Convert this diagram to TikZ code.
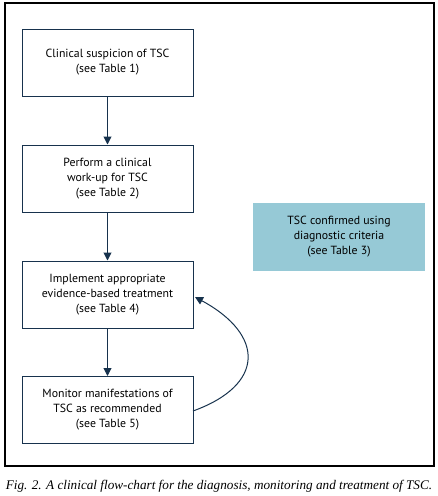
\documentclass[tikz,border=0pt]{standalone}
\usepackage{fontspec}
\setmainfont{PT Sans}
\newfontfamily\capfont{Liberation Serif}
\usetikzlibrary{arrows.meta}
\definecolor{navy}{HTML}{17324D}
\definecolor{teal}{HTML}{96C9D6}
\begin{document}
\begin{tikzpicture}[x=1pt,y=-1pt,
  flowbox/.style={draw=navy, line width=1pt, minimum width=171pt, minimum height=67pt, align=center, font=\fontsize{11.8}{15}\selectfont, inner sep=0pt},
  infobox/.style={fill=teal, minimum width=172pt, minimum height=68pt, align=center, font=\fontsize{11.8}{15}\selectfont, inner sep=0pt},
  conn/.style={draw=navy, line width=1pt, -{Triangle[length=8pt,width=8pt]}}]
\useasboundingbox (0,0) rectangle (438,496);
\draw[line width=1.2pt] (5,3) rectangle (434,466);
\node[flowbox] (b1) at (107.5,62.5) {Clinical suspicion of TSC\\(see Table 1)};
\node[flowbox] (b2) at (107.5,178.5) {Perform a clinical\\work-up for TSC\\(see Table 2)};
\node[flowbox] (b3) at (107.5,294.5) {Implement appropriate\\evidence-based treatment\\(see Table 4)};
\node[flowbox] (b4) at (107.5,410) {Monitor manifestations of\\TSC as recommended\\(see Table 5)};
\node[infobox] (c) at (339,237) {TSC confirmed using\\diagnostic criteria\\(see Table 3)};
\draw[conn] (b1) -- (b2);
\draw[conn] (b2) -- (b3);
\draw[conn] (b3) -- (b4);
\coordinate (s) at (193,411);
\coordinate (e) at (195,297);
\draw[conn] (s) .. controls (265,385) and (265,335) .. (e);
\node[font=\capfont\itshape\fontsize{13.2}{15}\selectfont, inner sep=0pt] (cap) at (219,486) {Fig. 2. A clinical flow-chart for the diagnosis, monitoring and treatment of TSC.};
\end{tikzpicture}
\end{document}
